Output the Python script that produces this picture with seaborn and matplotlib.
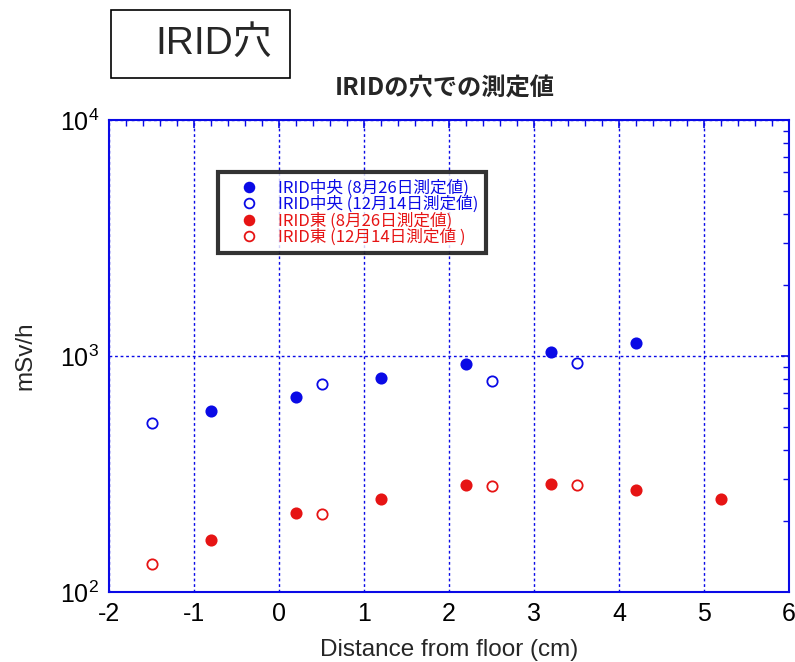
import matplotlib
matplotlib.use("Agg")
import matplotlib.pyplot as plt
import matplotlib.ticker as mticker
from matplotlib.lines import Line2D
from matplotlib.patches import Rectangle
import seaborn as sns
import pandas as pd

# ---- data ----
x_center_aug = [-0.8, 0.2, 1.2, 2.2, 3.2, 4.2]
y_center_aug = [585, 670, 807, 925, 1040, 1135]
x_center_dec = [-1.5, 0.5, 2.5, 3.5]
y_center_dec = [519, 761, 786, 934]
x_east_aug = [-0.8, 0.2, 1.2, 2.2, 3.2, 4.2, 5.2]
y_east_aug = [166, 217, 248, 283, 287, 271, 248]
x_east_dec = [-1.5, 0.5, 2.5, 3.5]
y_east_dec = [132, 215, 282, 285]

labels = ["IRID中央 (8月26日測定値)", "IRID中央 (12月14日測定値)",
          "IRID東 (8月26日測定値)", "IRID東 (12月14日測定値 )"]
x_ticks = [-2, -1, 0, 1, 2, 3, 4, 5, 6]

sns.set_style("white")
plt.rcParams['font.family'] = ['Liberation Sans', 'Noto Sans CJK JP', 'DejaVu Sans']
plt.rcParams['mathtext.fontset'] = 'custom'
plt.rcParams['mathtext.rm'] = 'Liberation Sans'
plt.rcParams['mathtext.it'] = 'Liberation Sans:italic'
plt.rcParams['mathtext.bf'] = 'Liberation Sans:bold'
plt.rcParams['axes.unicode_minus'] = False

BLUE = '#0a0ae6'
RED = '#e61414'

fig = plt.figure(figsize=(7.95, 6.62), dpi=100)
ax = fig.add_axes([109/795, 1-592/662, 680/795, 472/662])

series = [
    (x_center_aug, y_center_aug, BLUE, True),
    (x_center_dec, y_center_dec, BLUE, False),
    (x_east_aug, y_east_aug, RED, True),
    (x_east_dec, y_east_dec, RED, False),
]
handles = []
for (xs, ys, c, filled), lab in zip(series, labels):
    df = pd.DataFrame({'x': xs, 'y': ys})
    sns.scatterplot(data=df, x='x', y='y', ax=ax, s=55, marker='o',
                    facecolor=c if filled else 'white', edgecolor=c,
                    linewidth=1.3, zorder=3)
    handles.append(Line2D([], [], linestyle='none', marker='o', markersize=7,
                          markerfacecolor=c if filled else 'white',
                          markeredgecolor=c, markeredgewidth=1.3, label=lab))

ax.set_yscale('log')
ax.set_xlim(-2, 6)
ax.set_ylim(100, 10000)
ax.set_xticks(x_ticks)
ax.xaxis.set_minor_locator(mticker.MultipleLocator(0.2))
ax.yaxis.set_minor_locator(mticker.LogLocator(base=10, subs=range(2, 10)))
ax.yaxis.set_major_locator(mticker.LogLocator(base=10, numticks=5))
ax.yaxis.set_minor_formatter(mticker.NullFormatter())

ax.tick_params(which='both', direction='in', top=True, right=True,
               color=BLUE, labelsize=18, labelcolor='black')
ax.tick_params(which='major', length=6, width=1.2, pad=7)
ax.tick_params(which='minor', length=4, width=1.0)
for sp in ax.spines.values():
    sp.set_color(BLUE)
    sp.set_linewidth(1.5)
ax.grid(True, which='major', color=BLUE, linestyle=(0, (2, 2)), linewidth=1)
ax.grid(False, which='minor')

ax.set_xlabel('Distance from floor (cm)', fontsize=17.5, labelpad=9.5)
ax.set_ylabel('mSv/h', fontsize=17.5, labelpad=17)

leg = ax.legend(handles=handles, loc='upper left',
                bbox_to_anchor=(218/795, 1-172/662), bbox_transform=fig.transFigure,
                borderaxespad=0, frameon=True, fancybox=False,
                prop={'family': ['Noto Sans CJK JP', 'DejaVu Sans'], 'size': 12},
                labelspacing=-0.05, handletextpad=0.35, borderpad=0.45,
                handlelength=2.8)
leg.get_frame().set_edgecolor('black')
leg.get_frame().set_linewidth(3)
for t, (_, _, c, _) in zip(leg.get_texts(), series):
    t.set_color(c)

# title box
fig.patches.append(Rectangle((111/795, 1-78/662), 179/795, 68/662,
                             transform=fig.transFigure, facecolor='white',
                             edgecolor='black', linewidth=1.2))
fig.text(214/795, 1-44/662, 'IRID穴', fontsize=28, ha='center', va='center',
         family=['Liberation Sans', 'Noto Sans CJK JP'])
fig.text(445/795, 1-88/662, 'IRIDの穴での測定値', fontsize=17.5, fontweight='bold',
         ha='center', va='center', family=['Noto Sans CJK JP', 'DejaVu Sans'])

fig.savefig('out.png', dpi=100)
